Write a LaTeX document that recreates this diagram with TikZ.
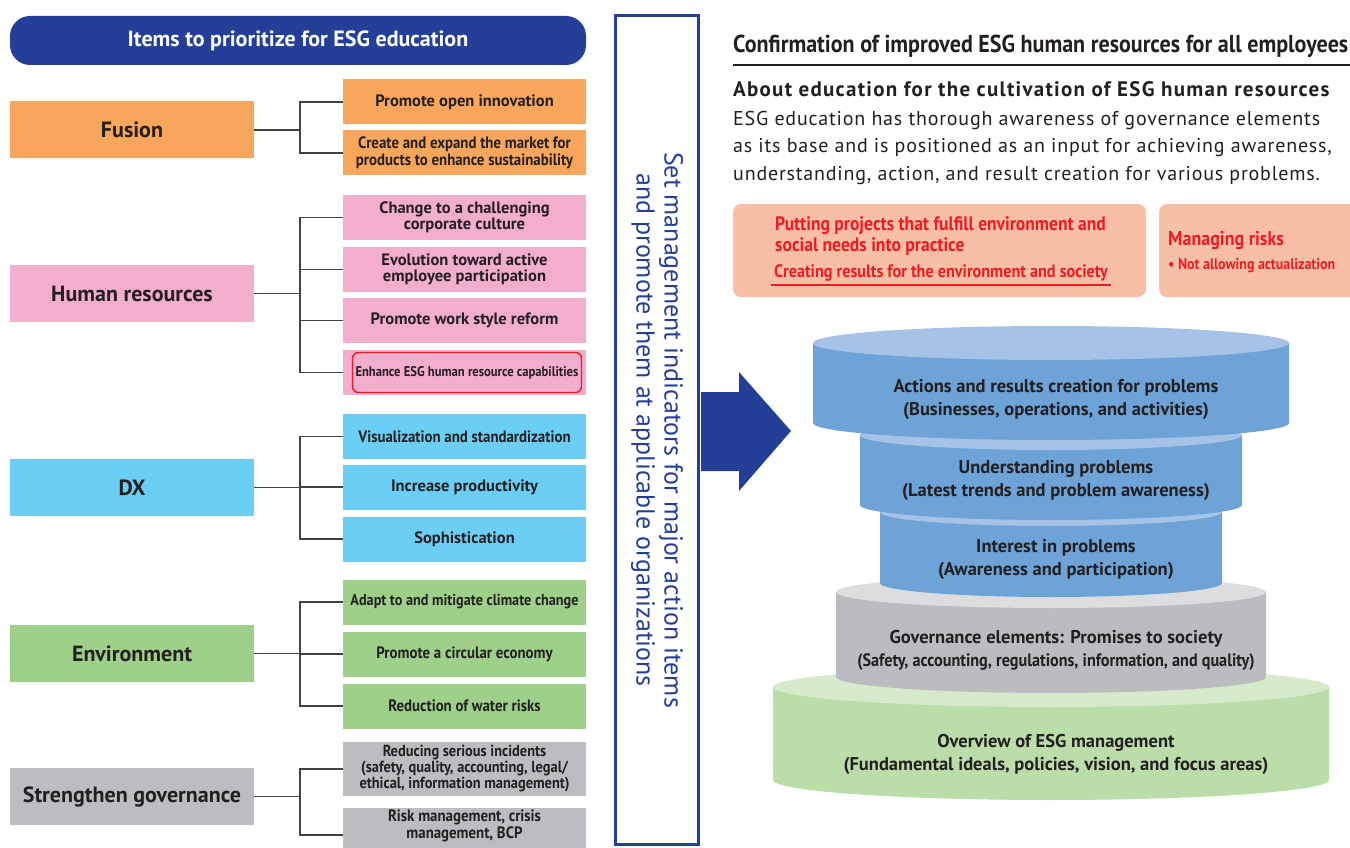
\documentclass[tikz,border=0pt]{standalone}
\usepackage{fontspec}
\setmainfont{PT Sans}
\newfontfamily\narrowfont{PT Sans}[FakeStretch=0.9]
\newfontfamily\spacedfont{PT Sans}[LetterSpace=6]
\newfontfamily\bodyfont{PT Sans}[LetterSpace=4]

\definecolor{navy}{HTML}{233F98}
\definecolor{inkdark}{HTML}{231F20}
\definecolor{fusionorange}{HTML}{F7A65B}
\definecolor{hrpink}{HTML}{F3ADCD}
\definecolor{dxcyan}{HTML}{6BCFF5}
\definecolor{envgreen}{HTML}{9ED08A}
\definecolor{govgray}{HTML}{BCBDC0}
\definecolor{alertred}{HTML}{ED1C24}
\definecolor{salmon}{HTML}{F9BEA6}
\definecolor{blueside}{HTML}{6DA3D6}
\definecolor{bluelid}{HTML}{A6C2E6}
\definecolor{grayside}{HTML}{BBBCC0}
\definecolor{graylid}{HTML}{DCDDDF}
\definecolor{greenside}{HTML}{BADDA9}
\definecolor{greenlid}{HTML}{D6EBCB}

\begin{document}
\begin{tikzpicture}[x=1pt, y=-1pt,
    main/.style={fill=#1, minimum width=244, minimum height=57, inner sep=0,
        text=inkdark, font=\fontsize{22}{24}\selectfont\bfseries},
    item/.style={fill=#1, minimum width=243, minimum height=45, inner sep=0,
        align=center, text=inkdark, font=\fontsize{16.5}{16.5}\selectfont\bfseries},
    narrowitem/.style={item=#1, font=\fontsize{16.5}{16.5}\selectfont\narrowfont\bfseries},
    link/.style={draw=inkdark!85, line width=1.1pt},
    redline/.style={anchor=base west, inner sep=0, text=alertred, font=\fontsize{19.5}{22}\selectfont\narrowfont\bfseries},
    tier/.style={align=center, text=inkdark, font=\fontsize{18.5}{23}\selectfont\bfseries}]
    \useasboundingbox (0,0) rectangle (1350,848);
    \clip (0,0) rectangle (1350,848);

    % Titolo a sinistra
    \node[fill=navy, rounded corners=20, minimum width=576, minimum height=49, text=white,
        font=\fontsize{22}{24}\selectfont\bfseries] (head) at (298,40.5) {Items to prioritize for ESG education};

    % Fusion
    \node[main=fusionorange] (fus) at (132,130) {Fusion};
    \node[item=fusionorange] (fus1) at (464.5,102) {Promote open innovation};
    \node[narrowitem=fusionorange] (fus2) at (464.5,153) {Create and expand the market for\\products to enhance sustainability};

    % Human resources
    \node[main=hrpink] (hr) at (132,293.5) {Human resources};
    \node[item=hrpink] (hr1) at (464.5,217.5) {Change to a challenging\\corporate culture};
    \node[item=hrpink] (hr2) at (464.5,269.5) {Evolution toward active\\employee participation};
    \node[item=hrpink] (hr3) at (464.5,320.5) {Promote work style reform};
    \node[item=hrpink] (hr4) at (464.5,372.5) {};
    \node[draw=alertred, line width=1.4pt, rounded corners=6, minimum width=229, minimum height=40, inner sep=0,
        text=inkdark, font=\fontsize{14}{15}\selectfont\narrowfont\bfseries] (hr4t) at (467,372.5) {Enhance ESG human resource capabilities};

    % DX
    \node[main=dxcyan] (dx) at (132,487.5) {DX};
    \node[narrowitem=dxcyan] (dx1) at (464.5,436.5) {Visualization and standardization};
    \node[item=dxcyan] (dx2) at (464.5,487) {Increase productivity};
    \node[item=dxcyan] (dx3) at (464.5,539) {Sophistication};

    % Environment
    \node[main=envgreen] (env) at (132,653.5) {Environment};
    \node[narrowitem=envgreen, font=\fontsize{15.8}{16}\selectfont\narrowfont\bfseries] (env1) at (464.5,602) {Adapt to and mitigate climate change};
    \node[narrowitem=envgreen] (env2) at (464.5,654) {Promote a circular economy};
    \node[narrowitem=envgreen] (env3) at (464.5,706) {Reduction of water risks};

    % Strengthen governance
    \node[main=govgray] (gov) at (132,796.5) {Strengthen governance};
    \node[narrowitem=govgray, minimum height=54, font=\fontsize{16}{16}\selectfont\narrowfont\bfseries] (gov1) at (464.5,769)
        {Reducing serious incidents\\(safety, quality, accounting, legal/\\ethical, information management)};
    \node[narrowitem=govgray, minimum height=54, text depth=22] (gov2) at (464.5,835) {Risk management, crisis\\management, BCP};

    % Collegamenti a parentesi
    \coordinate (bx) at (300,0);
    \foreach \p/\a/\b in {fus/fus1/fus2, hr/hr1/hr4, dx/dx1/dx3, env/env1/env3, gov/gov1/gov2} {
        \draw[link] (\p.east) -- (\p.east -| bx);
        \draw[link] (\a.west) -- (\a.west -| bx) -- (\b.west -| bx) -- (\b.west);
    }
    \foreach \c in {hr2, hr3, dx2, env2}
        \draw[link] (\c.west) -- (\c.west -| bx);

    % Riquadro verticale
    \node[draw=navy, line width=3pt, rotate=-90, minimum width=829, minimum height=83, inner sep=0,
        align=center, text=navy, font=\fontsize{26}{28}\selectfont] (kpi) at (657,430)
        {Set management indicators for major action items\\and promote them at applicable organizations};

    % Freccia
    \fill[navy] (701,392) -- (739,392) -- (739,372) -- (791,431) -- (739,491) -- (739,471) -- (701,471) -- cycle;

    % Testi a destra
    \node[anchor=base west, inner sep=0, text=inkdark, font=\fontsize{24.5}{26}\selectfont\narrowfont\bfseries] (conf) at (733,53)
        {Confirmation of improved ESG human resources for all employees};
    \draw[inkdark, line width=2.2pt] (733,65) -- (1350,65);
    \node[anchor=base west, inner sep=0, text=inkdark, font=\fontsize{21}{24}\selectfont\spacedfont\bfseries] (about) at (733,97)
        {About education for the cultivation of ESG human resources};
    \node[anchor=base west, inner sep=0, text=inkdark, font=\fontsize{20}{24}\selectfont\bodyfont] (body1) at (733,126)
        {ESG education has thorough awareness of governance elements};
    \node[anchor=base west, inner sep=0, text=inkdark, font=\fontsize{20}{24}\selectfont\bodyfont] (body2) at (733,153)
        {as its base and is positioned as an input for achieving awareness,};
    \node[anchor=base west, inner sep=0, text=inkdark, font=\fontsize{20}{24}\selectfont\bodyfont] (body3) at (733,180)
        {understanding, action, and result creation for various problems.};

    % Riquadri rossi
    \node[fill=salmon, rounded corners=8, minimum width=413, minimum height=93, inner sep=0] (goal) at (939.5,250.5) {};
    \node[fill=salmon, rounded corners=8, minimum width=220, minimum height=93, inner sep=0] (risk) at (1269,250.5) {};
    \node[redline] (goal1) at (775,230) {Putting projects that fulfill environment and};
    \node[redline] (goal2) at (775,251) {social needs into practice};
    \node[redline, font=\fontsize{18}{20}\selectfont\narrowfont\bfseries] (goal3) at (774,277) {Creating results for the environment and society};
    \draw[alertred, line width=1.2pt] (771,285) -- (1111,285);
    \node[redline, font=\fontsize{20}{22}\selectfont\narrowfont\bfseries] (risk1) at (1168,245) {Managing risks};
    \node[redline, font=\fontsize{15.5}{18}\selectfont\narrowfont\bfseries] (risk2) at (1168,269) {\textbullet\ Not allowing actualization};

    % Cilindri (dal basso verso l'alto)
    \foreach \yt/\yb/\rx/\ry/\side/\lid in {687/780/278/20/greenside/greenlid, 592/677/215/16/grayside/graylid,
        512/583/171/14/blueside/bluelid, 435/505/191/15/blueside/bluelid, 343/423/238/17/blueside/bluelid} {
        \fill[\side] (1051-\rx,\yt) -- (1051-\rx,\yb) arc[start angle=180, end angle=0, x radius=\rx, y radius=\ry]
            -- (1051+\rx,\yt) -- cycle;
        \fill[\lid] (1051,\yt) ellipse[x radius=\rx, y radius=\ry];
    }

    % Testi dei cilindri
    \node[tier] (act) at (1056,399.5) {Actions and results creation for problems\\(Businesses, operations, and activities)};
    \node[tier] (und) at (1056,480) {Understanding problems\\(Latest trends and problem awareness)};
    \node[tier] (int) at (1056,559.5) {Interest in problems\\(Awareness and participation)};
    \node[tier] (govt) at (1056,650) {Governance elements: Promises to society\\{\narrowfont\fontsize{18}{23}\selectfont(Safety, accounting, regulations, information, and quality)}};
    \node[tier] (over) at (1056,754) {Overview of ESG management\\(Fundamental ideals, policies, vision, and focus areas)};
\end{tikzpicture}
\end{document}
